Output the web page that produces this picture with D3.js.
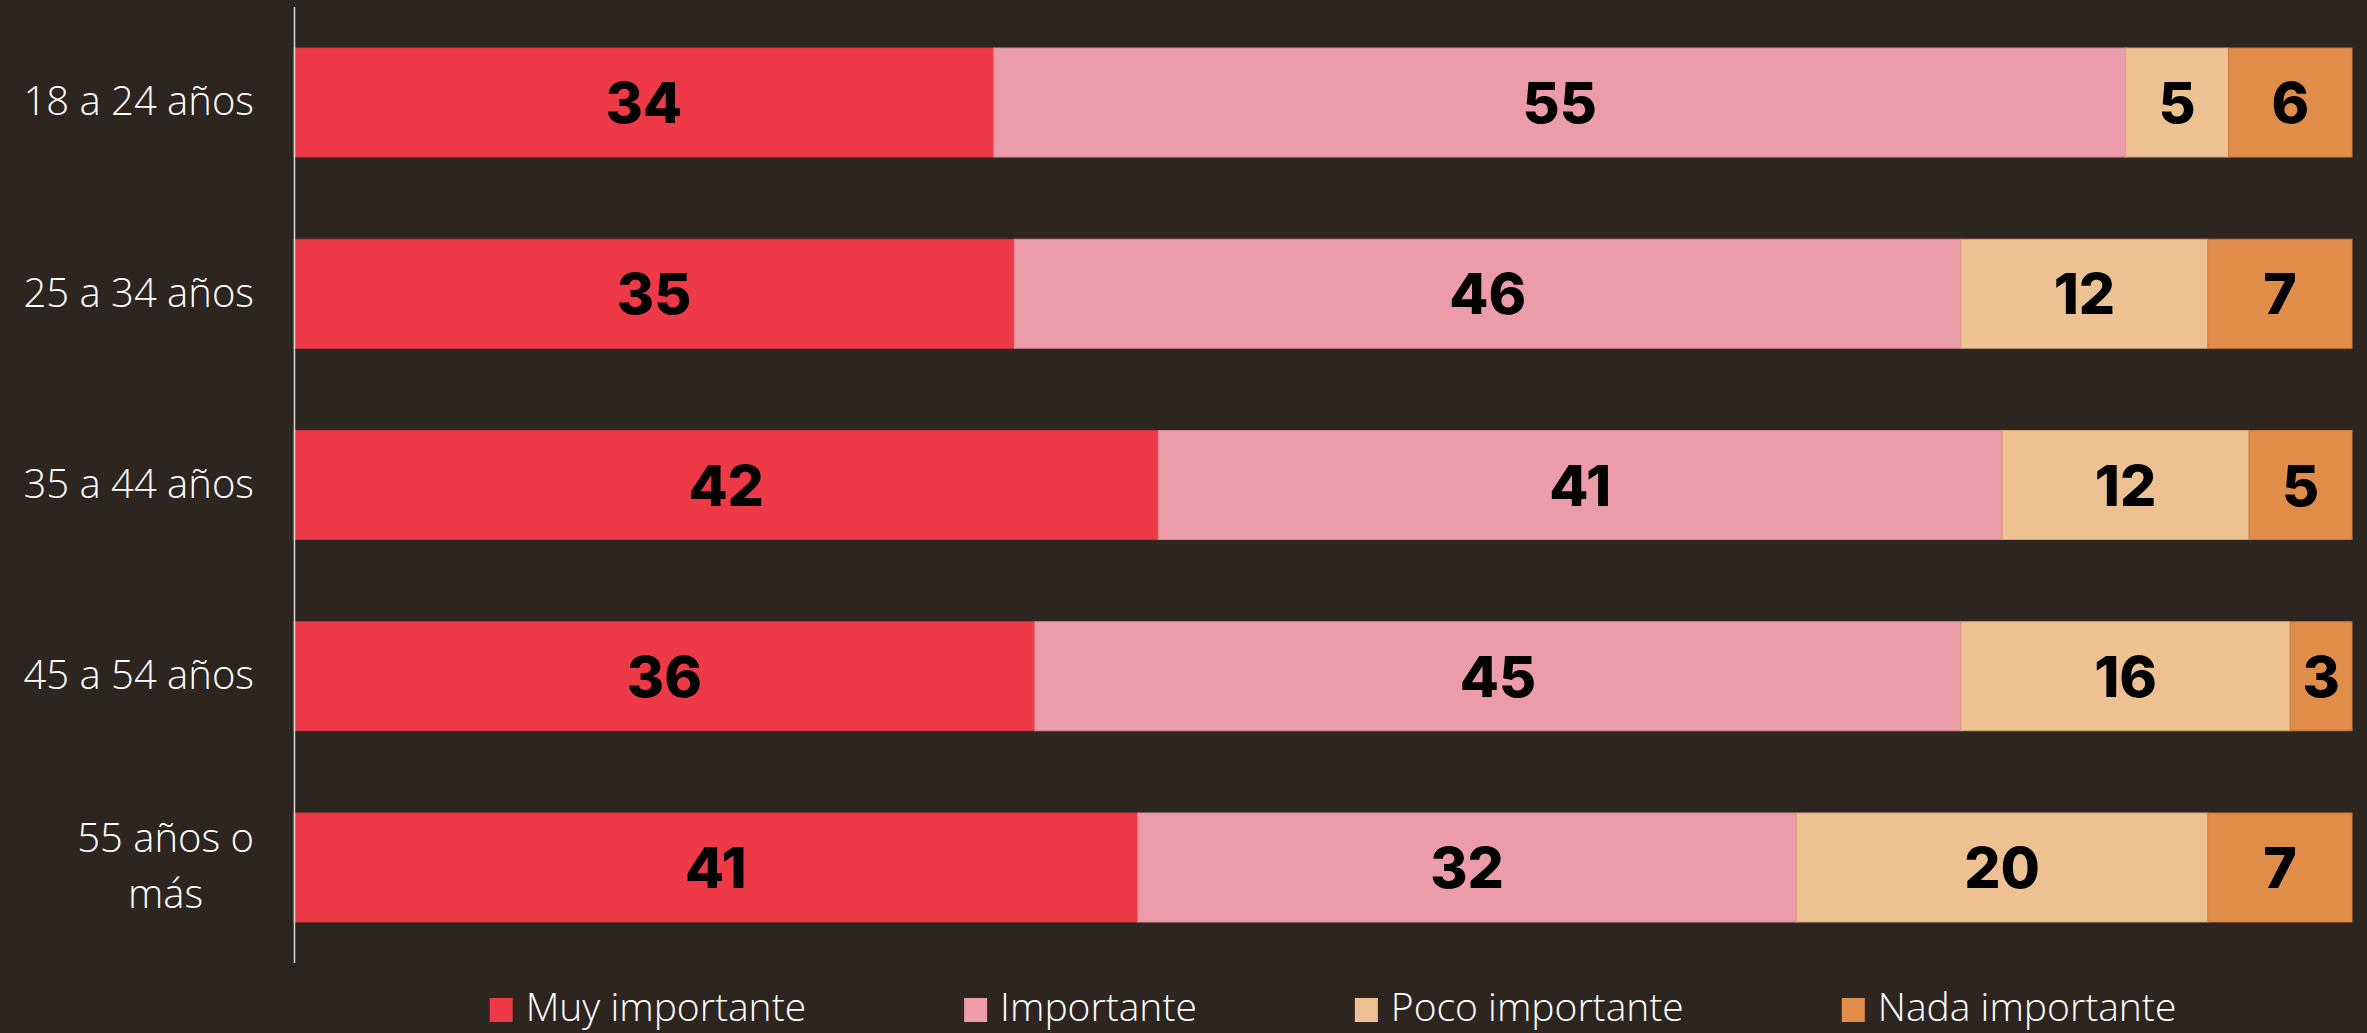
<!DOCTYPE html>
<html>
<head>
<meta charset="utf-8">
<script src="https://cdn.jsdelivr.net/npm/d3@7"></script>
<style>
  html, body { margin: 0; padding: 0; background: #2d2520; }
  svg { display: block; }
</style>
</head>
<body>
<svg id="chart" width="2367" height="1033"></svg>
<script>
const categories = ["18 a 24 años", "25 a 34 años", "35 a 44 años", "45 a 54 años", "55 años o más"];
const seriesNames = ["Muy importante", "Importante", "Poco importante", "Nada importante"];
const muyImportante = [34, 35, 42, 36, 41];
const importante = [55, 46, 41, 45, 32];
const pocoImportante = [5, 12, 12, 16, 20];
const nadaImportante = [6, 7, 5, 3, 7];
const colors = ["#ee3946", "#ec9ca9", "#edc192", "#e08d4a"];
const strokes = ["#d8323f", "#d98a97", "#d4a577", "#c97a3c"];

const seriesValues = [muyImportante, importante, pocoImportante, nadaImportante];
const table = categories.map((c, i) => {
  const row = { cat: c };
  seriesNames.forEach((s, j) => row[s] = seriesValues[j][i]);
  return row;
});

const svg = d3.select("#chart");
const W = 2367, H = 1033;
svg.append("rect").attr("width", W).attr("height", H).attr("fill", "#2d2520");

const x = d3.scaleLinear().domain([0, 100]).range([294, 2352]);
const y = d3.scaleBand().domain(categories).range([48, 922]).paddingInner(0.43).paddingOuter(0);

const stack = d3.stack().keys(seriesNames)(table);

const labelFont = "'Open Sans', 'Noto Sans', sans-serif";
const valueFont = "Inter, 'Open Sans', sans-serif";
const labelSize = 40;
const legendSize = 39;

// bars
const groups = svg.append("g").selectAll("g").data(stack).join("g")
  .attr("fill", (d, i) => colors[i])
  .attr("stroke", (d, i) => strokes[i])
  .attr("stroke-width", 1);

groups.selectAll("rect").data(d => d).join("rect")
  .attr("x", d => x(d[0]))
  .attr("y", d => y(d.data.cat))
  .attr("width", d => x(d[1]) - x(d[0]))
  .attr("height", y.bandwidth());

// value labels
const vlab = svg.append("g");
stack.forEach((s, i) => {
  vlab.selectAll(null).data(s).join("text")
    .attr("x", d => (x(d[0]) + x(d[1])) / 2)
    .attr("y", d => y(d.data.cat) + y.bandwidth() / 2)
    .attr("dy", "0.36em")
    .attr("text-anchor", "middle")
    .attr("font-family", valueFont)
    .attr("font-weight", 800)
    .attr("font-size", 57)
    .attr("fill", "#000")
    .text(d => d[1] - d[0]);
});

// y axis
const yAxis = d3.axisLeft(y).tickSize(0).tickPadding(40);
const ag = svg.append("g").attr("transform", "translate(294,0)").call(yAxis);
ag.select(".domain").remove();
ag.selectAll(".tick text")
  .attr("font-family", labelFont)
  .attr("font-weight", 300)
  .attr("font-size", labelSize)
  .attr("fill", "#ffffff")
  .each(function(d) {
    const t = d3.select(this);
    const words = d.split(" ");
    if (d.length > 12) {
      const l1 = words.slice(0, -1).join(" ");
      const l2 = words[words.length - 1];
      t.text(null);
      t.attr("dy", null);
      const x0 = +t.attr("x");
      const s1 = t.append("tspan").attr("x", x0).attr("dy", "-0.38em").text(l1);
      const w1 = s1.node().getComputedTextLength();
      t.append("tspan").attr("x", x0 - w1 / 2).attr("text-anchor", "middle").attr("dy", "1.4em").text(l2);
    }
  });
svg.append("line")
  .attr("x1", 294.5).attr("x2", 294.5)
  .attr("y1", 7).attr("y2", 963)
  .attr("stroke", "#d9d9d9").attr("stroke-width", 1.5);

// legend
const lg = svg.append("g");
let cx = 0;
seriesNames.forEach((s, i) => {
  const g = lg.append("g").attr("transform", `translate(${cx},0)`);
  g.append("rect").attr("x", 0).attr("y", 998).attr("width", 23).attr("height", 24).attr("fill", colors[i]);
  const t = g.append("text").attr("x", 36).attr("y", 1021)
    .attr("font-family", labelFont).attr("font-weight", 300).attr("font-size", legendSize)
    .attr("fill", "#ffffff").text(s);
  const w = t.node().getComputedTextLength();
  cx += 36 + w + (i < seriesNames.length - 1 ? 158 : 0);
});
lg.attr("transform", `translate(${1333 - cx / 2},0)`);
</script>
</body>
</html>
